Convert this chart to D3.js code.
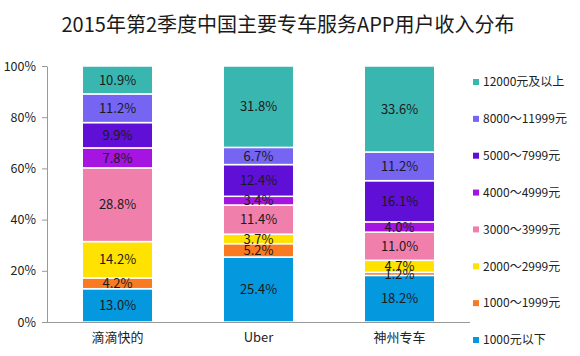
<!DOCTYPE html>
<html><head><meta charset="utf-8">
<script src="https://cdn.jsdelivr.net/npm/d3@7"></script>
<style>body{margin:0;background:#fff;}svg{display:block;font-family:"Noto Sans CJK SC","Noto Sans",sans-serif;}</style>
</head><body><svg id="c" width="580" height="356"></svg>
<script>
const categories = ["滴滴快的", "Uber", "神州专车"];
const seriesNames = ["1000元以下", "1000～1999元", "2000～2999元", "3000～3999元", "4000～4999元", "5000～7999元", "8000～11999元", "12000元及以上"];
const seriesColors = ["#0498DF", "#FA7A21", "#FFE200", "#F17FAB", "#A514E0", "#6010D6", "#7664F2", "#3AB6B0"];
const didiValues = [13.0, 4.2, 14.2, 28.8, 7.8, 9.9, 11.2, 10.9];
const uberValues = [25.4, 5.2, 3.7, 11.4, 3.4, 12.4, 6.7, 31.8];
const shenzhouValues = [18.2, 1.2, 4.7, 11.0, 4.0, 16.1, 11.2, 33.6];
const yTicks = [0, 20, 40, 60, 80, 100];
const title = "2015年第2季度中国主要专车服务APP用户收入分布";

const values = [didiValues, uberValues, shenzhouValues];
const table = categories.map((c, i) => {
  const row = {cat: c};
  seriesNames.forEach((s, j) => row[s] = values[i][j]);
  return row;
});

const svg = d3.select("#c");
const x = d3.scaleBand().domain(categories).range([47, 470]).paddingInner(0.5).paddingOuter(0.25);
const y = d3.scaleLinear().domain([0, 100]).range([322, 66]);

svg.append("text").attr("x", 288).attr("y", 32).attr("text-anchor", "middle")
  .attr("font-size", 20).attr("fill", "#1a1a1a").text(title);

const stack = d3.stack().keys(seriesNames)(table);

const g = svg.append("g");
stack.forEach((layer, j) => {
  layer.forEach((d, i) => {
    const x0 = x(categories[i]);
    g.append("rect").attr("x", x0).attr("width", x.bandwidth())
      .attr("y", y(d[1])).attr("height", y(d[0]) - y(d[1]))
      .attr("fill", seriesColors[j]).attr("stroke", "#fff").attr("stroke-width", 1.5);
  });
});
stack.forEach((layer, j) => {
  layer.forEach((d, i) => {
    g.append("text").attr("x", x(categories[i]) + x.bandwidth() / 2)
      .attr("y", (y(d[0]) + y(d[1])) / 2).attr("dy", "0.36em")
      .attr("text-anchor", "middle").attr("font-size", 13).attr("fill", "#1a1a1a")
      .text(d.data[seriesNames[j]].toFixed(1) + "%");
  });
});

const yAxis = svg.append("g").attr("transform", "translate(47,0)")
  .call(d3.axisLeft(y).tickValues(yTicks).tickFormat(d => d + "%").tickSize(5).tickSizeOuter(0));
yAxis.select(".domain").attr("stroke", "#999");
yAxis.selectAll(".tick line").attr("stroke", "#999");
yAxis.selectAll("text").attr("font-size", 12.5).attr("fill", "#222").attr("x", -11)
  .attr("font-family", "\"Noto Sans CJK SC\",sans-serif");

const xAxis = svg.append("g").attr("transform", "translate(0,322)")
  .call(d3.axisBottom(x).tickSize(0).tickSizeOuter(0));
xAxis.select(".domain").attr("stroke", "#999").attr("d", "M47,0.5H470");
xAxis.selectAll("text").attr("font-size", 13).attr("fill", "#222").attr("dy", "1.3em")
  .attr("font-family", "\"Noto Sans CJK SC\",sans-serif");

const legendY = d3.scalePoint().domain(seriesNames.slice().reverse()).range([82, 340]);
const lg = svg.append("g");
seriesNames.forEach((s, j) => {
  const yy = legendY(s);
  lg.append("rect").attr("x", 473).attr("y", yy - 3).attr("width", 6).attr("height", 6).attr("fill", seriesColors[j]);
  lg.append("text").attr("x", 483).attr("y", yy).attr("dy", "0.36em").attr("font-size", 12)
    .attr("fill", "#222").text(s);
});
</script></body></html>
